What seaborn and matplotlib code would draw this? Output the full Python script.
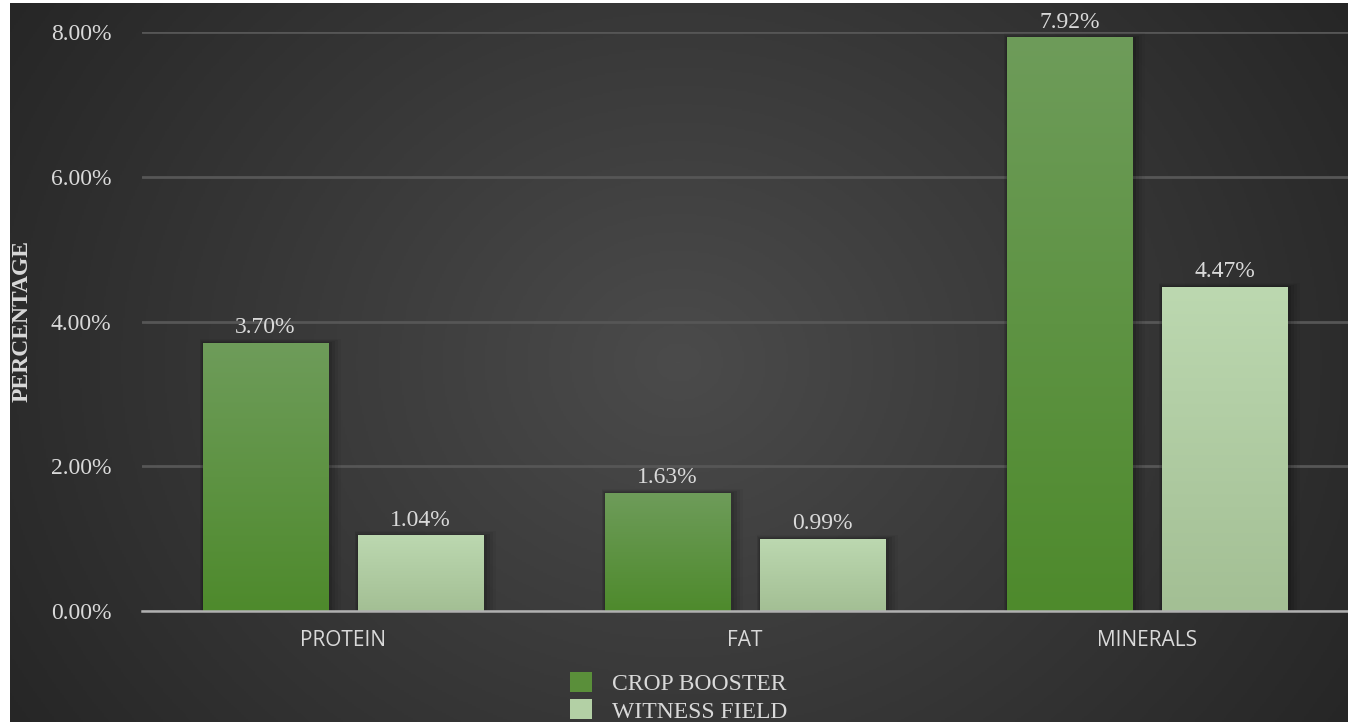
import numpy as np
import pandas as pd
import matplotlib
matplotlib.use("Agg")
import matplotlib.pyplot as plt
from matplotlib.patches import Patch
from matplotlib.colors import LinearSegmentedColormap
import seaborn as sns

# Nutrient content (%) for each field
categories = ["PROTEIN", "FAT", "MINERALS"]
crop_booster = [3.70, 1.63, 7.92]
witness_field = [1.04, 0.99, 4.47]
series_names = ["CROP BOOSTER", "WITNESS FIELD"]
y_ticks = [0, 2, 4, 6, 8]

df = pd.DataFrame({
    "category": categories * 2,
    "series": [series_names[0]] * 3 + [series_names[1]] * 3,
    "value": crop_booster + witness_field,
})

sns.set_theme(style="dark")
serif = ["Liberation Serif", "DejaVu Serif"]
sans = ["Open Sans", "DejaVu Sans"]
text_col = "#d9d9d9"

W, H = 1348, 722
fig = plt.figure(figsize=(W / 100, H / 100), dpi=100, facecolor="white")

# Radial dark background
bg = fig.add_axes([10 / W, 0, 1 - 10 / W, 1 - 3 / H], zorder=-10)
yy, xx = np.mgrid[0:1:400j, 0:1:700j]
r = np.sqrt(((xx - 0.5) * 1.6) ** 2 + ((yy - 0.5) * 1.0) ** 2)
r = np.clip(r / 0.95, 0, 1)
bg_cmap = LinearSegmentedColormap.from_list("bg", ["#4b4b4b", "#262626"])
bg.imshow(r, cmap=bg_cmap, aspect="auto", extent=[0, 1, 0, 1], vmin=0, vmax=1)
bg.set_axis_off()

ax = fig.add_axes([142 / W, 1 - 611 / H, 1 - 142 / W, (611 - 32) / H])
ax.patch.set_alpha(0)

colors = {"CROP BOOSTER": "#5a8f3a", "WITNESS FIELD": "#b3d0a5"}
sns.barplot(data=df, x="category", y="value", hue="series", order=categories,
            hue_order=series_names, palette=colors, width=0.771, gap=0.188,
            ax=ax, legend=False, saturation=1, linewidth=0)

ax.set_xlim(-0.5, 2.5)
ax.set_ylim(0, 8)

# Vertical gradient fill on each bar
grad_maps = {
    0: LinearSegmentedColormap.from_list("g1", ["#4e8a2c", "#6e9c5a"]),
    1: LinearSegmentedColormap.from_list("g2", ["#a3bf94", "#bcd8b0"]),
}
bars = [p for p in ax.patches if p.get_height() > 0]
ordered = sorted(bars, key=lambda p: p.get_x())
for i, p in enumerate(ordered):
    s = i % 2
    x0, w, h = p.get_x(), p.get_width(), p.get_height()
    # soft shadow
    for k, a in enumerate([0.10, 0.08, 0.06, 0.04]):
        d = 0.006 * (k + 1)
        ax.add_patch(plt.Rectangle((x0 - d * 0.3, 0), w + d * 1.6, h + d * 2.5,
                                   color="black", alpha=a, lw=0, zorder=1.5))
    grad = np.linspace(0, 1, 256).reshape(-1, 1)
    ax.imshow(grad, cmap=grad_maps[s], extent=[x0, x0 + w, 0, h], origin="lower",
              aspect="auto", zorder=2.5)
    ax.text(x0 + w / 2, h + 0.07, f"{h:.2f}%", ha="center", va="bottom",
            color=text_col, fontsize=17, family=serif, zorder=4)

ax.set_xlim(-0.5, 2.5)
ax.set_ylim(0, 8)

ax.set_yticks(y_ticks)
ax.set_yticklabels([f"{v:.2f}%" for v in y_ticks], family=serif, fontsize=17,
                   color=text_col)
ax.tick_params(axis="y", length=0, pad=22)
ax.tick_params(axis="x", length=0, pad=14)
for lab in ax.get_xticklabels():
    lab.set_family(sans)
    lab.set_fontsize(15)
    lab.set_color(text_col)

ax.grid(axis="y", color="#565656", linewidth=2, zorder=0)
ax.grid(axis="x", visible=False)
ax.set_axisbelow(True)
for sp in ["top", "right", "left"]:
    ax.spines[sp].set_visible(False)
ax.spines["bottom"].set_color("#b0b0b0")
ax.spines["bottom"].set_linewidth(1.8)
ax.spines["bottom"].set_zorder(5)

ax.set_xlabel("")
ax.set_ylabel("")
fig.text(22 / W, 1 - 321 / H, "PERCENTAGE", rotation=90, ha="center", va="center",
         family=serif, fontsize=17, fontweight="bold", color=text_col)

handles = [Patch(facecolor=colors[n], edgecolor="none", label=n) for n in series_names]
leg = fig.legend(handles=handles, loc="upper left", bbox_to_anchor=(570 / W, 1 - 672 / H),
                 ncol=1, frameon=False, handlelength=0.93, handleheight=0.93,
                 handletextpad=0.85, labelspacing=0.18, borderpad=0, borderaxespad=0,
                 prop={"family": serif, "size": 17})
for t in leg.get_texts():
    t.set_color(text_col)

fig.savefig("out.png", dpi=100, facecolor=fig.get_facecolor())
